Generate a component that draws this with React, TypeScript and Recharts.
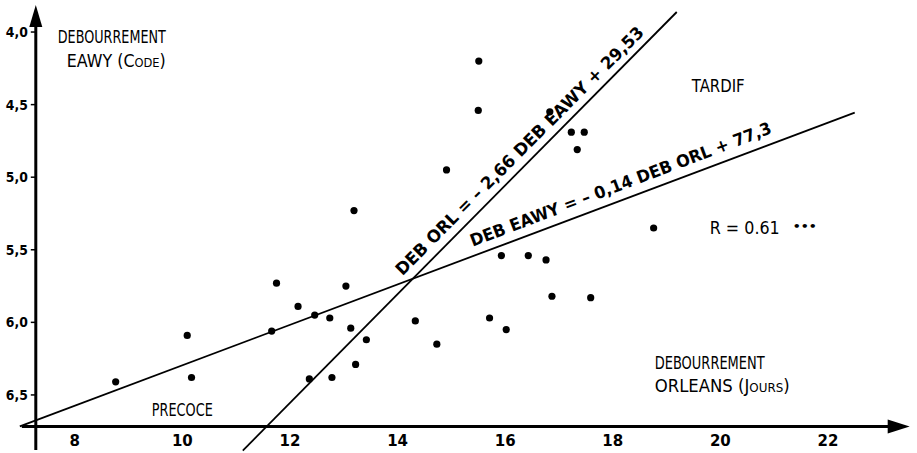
import React from 'react';
import { ScatterChart, Scatter, XAxis, YAxis, ReferenceLine, ReferenceDot } from 'recharts';

// Débourrement Orléans (jours) vs Débourrement Eawy (code)
const debOrl = [8.76, 10.09, 10.17, 11.66, 11.75, 12.15, 12.46, 12.74, 13.04, 13.13, 13.19, 13.22, 13.42, 12.36, 12.78, 14.33, 14.73, 14.91, 15.51, 15.5, 15.71, 15.93, 16.02, 16.43, 16.76, 16.83, 16.87, 17.23, 17.47, 17.34, 17.59, 18.76];
const debEawy = [6.41, 6.09, 6.38, 6.06, 5.73, 5.89, 5.95, 5.97, 5.75, 6.04, 5.23, 6.29, 6.12, 6.39, 6.38, 5.99, 6.15, 4.95, 4.2, 4.54, 5.97, 5.54, 6.05, 5.54, 5.57, 4.55, 5.82, 4.69, 4.69, 4.81, 5.83, 5.35];

const xTicks = [8, 10, 12, 14, 16, 18, 20, 22];
const xTickLabels = ['8', '10', '12', '14', '16', '18', '20', '22'];
const yTicks = [4.0, 4.5, 5.0, 5.5, 6.0, 6.5];
const yTickLabels = ['4,0', '4,5', '5,0', '5,5', '6,0', '6,5'];

// regression lines (end points)
const lineEawy = [{ x: 6.978, y: 6.717 }, { x: 22.498, y: 4.555 }];
const lineOrl = [{ x: 11.123, y: 6.883 }, { x: 19.19, y: 3.862 }];

const points = debOrl.map((x, i) => ({ x, y: debEawy[i] }));

const FONT = '"DejaVu Sans", sans-serif';

const X_AXIS_AT = 6.717; // y value where horizontal axis is drawn
const Y_AXIS_AT = 7.275; // x value where vertical axis is drawn

type TxtOpts = { size?: number; bold?: boolean; len?: number; angle?: number; anchor?: string; smallCaps?: boolean };

const textShape = (content: string, o: TxtOpts = {}) => (p: any) => (
  <text
    x={p.cx}
    y={p.cy}
    fontFamily={FONT}
    fontSize={o.size ?? 18}
    fontWeight={o.bold ? 'bold' : 'normal'}
    fill="#000"
    textAnchor={o.anchor ?? 'start'}
    textLength={o.len}
    lengthAdjust={o.len ? 'spacingAndGlyphs' : undefined}
    style={o.smallCaps ? { fontVariant: 'small-caps' } : undefined}
    transform={o.angle ? `rotate(${o.angle} ${p.cx} ${p.cy})` : undefined}
  >
    {content}
  </text>
);

export default function App() {
  return (
    <div style={{ position: 'absolute', left: 0, top: 0, width: 917, height: 453, background: '#fff' }}>
      <ScatterChart width={917} height={453} margin={{ top: 3, right: 3, bottom: 0, left: 21 }}>
        <XAxis type="number" dataKey="x" domain={[7, 23.6]} hide allowDataOverflow />
        <YAxis type="number" dataKey="y" domain={[3.8, 6.9]} reversed hide allowDataOverflow />

        {/* axes */}
        <ReferenceLine segment={[{ x: 7.015, y: X_AXIS_AT }, { x: 23.2, y: X_AXIS_AT }]} stroke="#000" strokeWidth={3} ifOverflow="visible" />
        <ReferenceLine segment={[{ x: Y_AXIS_AT, y: 6.88 }, { x: Y_AXIS_AT, y: 3.95 }]} stroke="#000" strokeWidth={3} ifOverflow="visible" />
        <ReferenceDot x={23.52} y={X_AXIS_AT} ifOverflow="visible" shape={(p: any) => (
          <polygon points={`${p.cx},${p.cy} ${p.cx - 22},${p.cy - 7} ${p.cx - 22},${p.cy + 7}`} fill="#000" />
        )} />
        <ReferenceDot x={Y_AXIS_AT} y={3.814} ifOverflow="visible" shape={(p: any) => (
          <polygon points={`${p.cx},${p.cy} ${p.cx - 6.5},${p.cy + 22} ${p.cx + 6.5},${p.cy + 22}`} fill="#000" />
        )} />

        {xTicks.map((t, i) => (
          <ReferenceDot key={'xt' + t} x={t} y={X_AXIS_AT} ifOverflow="visible" shape={(p: any) => (
            <text x={p.cx} y={p.cy + 20} textAnchor="middle" fontFamily={FONT} fontSize={15} fontWeight="bold" fill="#000">{xTickLabels[i]}</text>
          )} />
        ))}
        {yTicks.map((t, i) => (
          <ReferenceDot key={'yt' + t} x={Y_AXIS_AT} y={t} ifOverflow="visible" shape={(p: any) => (
            <g>
              <line x1={p.cx - 5} x2={p.cx} y1={p.cy} y2={p.cy} stroke="#000" strokeWidth={1.5} />
              <text x={p.cx - 8} y={p.cy + 5} textAnchor="end" fontFamily={FONT} fontSize={14} fontWeight="bold" fill="#000" textLength={22} lengthAdjust="spacingAndGlyphs">{yTickLabels[i]}</text>
            </g>
          )} />
        ))}

        {/* regression lines */}
        <ReferenceLine segment={lineEawy} stroke="#000" strokeWidth={1.8} ifOverflow="visible" />
        <ReferenceLine segment={lineOrl} stroke="#000" strokeWidth={1.8} ifOverflow="visible" />

        <Scatter
          data={points}
          isAnimationActive={false}
          fill="#000"
          shape={(p: any) => <circle cx={p.cx} cy={p.cy} r={3.6} fill="#000" />}
        />

        {/* annotations */}
        <ReferenceDot x={7.684} y={4.075} ifOverflow="visible" shape={textShape('DEBOURREMENT', { len: 108 })} />
        <ReferenceDot x={7.851} y={4.24} ifOverflow="visible" shape={textShape('EAWY (Code)', { len: 99, smallCaps: true })} />
        <ReferenceDot x={19.468} y={4.412} ifOverflow="visible" shape={textShape('TARDIF', { len: 53 })} />
        <ReferenceDot x={9.431} y={6.648} ifOverflow="visible" shape={textShape('PRECOCE', { len: 61 })} />
        <ReferenceDot x={19.803} y={5.392} ifOverflow="visible" shape={(p: any) => (
          <g>
            <text x={p.cx} y={p.cy} fontFamily={FONT} fontSize={18} fill="#000" textLength={70} lengthAdjust="spacingAndGlyphs">R = 0.61</text>
            <text x={p.cx + 83} y={p.cy - 4} fontFamily={FONT} fontSize={11} fontWeight="bold" fill="#000" textLength={24} lengthAdjust="spacingAndGlyphs">•••</text>
          </g>
        )} />
        <ReferenceDot x={18.78} y={6.323} ifOverflow="visible" shape={textShape('DEBOURREMENT', { len: 110 })} />
        <ReferenceDot x={18.78} y={6.481} ifOverflow="visible" shape={textShape('ORLEANS (Jours)', { len: 135, smallCaps: true })} />

        <ReferenceDot x={14.09} y={5.682} ifOverflow="visible" shape={textShape('DEB ORL = – 2,66 DEB  EAWY + 29,53', { len: 343, angle: -45, bold: true, size: 17 })} />
        <ReferenceDot x={15.398} y={5.48} ifOverflow="visible" shape={textShape('DEB EAWY = – 0,14 DEB ORL + 77,3', { len: 321, angle: -20.8, bold: true, size: 17 })} />
      </ScatterChart>
    </div>
  );
}
